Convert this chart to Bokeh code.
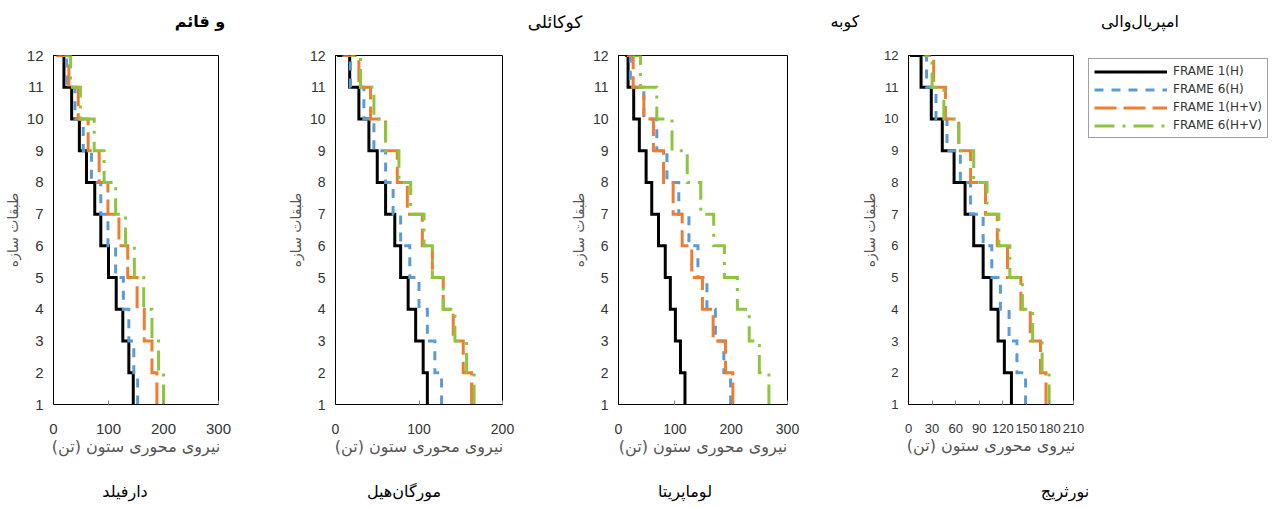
from bokeh.plotting import figure
from bokeh.layouts import row, column
from bokeh.models import Range1d, FixedTicker, Legend, LegendItem, Div
from bokeh.embed import file_html
from bokeh.resources import INLINE

stories = [1, 2, 3, 4, 5, 6, 7, 8, 9, 10, 11, 12]
series_names = ["FRAME 1(H)", "FRAME 6(H)", "FRAME 1(H+V)", "FRAME 6(H+V)"]

# Darfield
darfield_f1h = [145, 137, 126, 114, 100, 86, 75, 60, 47, 33, 19, 7]
darfield_f6h = [153, 146, 137, 127, 113, 99, 86, 69, 54, 39, 24, 10]
darfield_f1hv = [188, 179, 165, 152, 135, 119, 99, 83, 63, 45, 28, 5]
darfield_f6hv = [200, 191, 179, 164, 147, 131, 113, 92, 74, 49, 31, 20]
# Morgan Hill
morgan_f1h = [110, 105, 96, 87, 78, 71, 60, 50, 40, 28, 17, 2]
morgan_f6h = [127, 119, 110, 100, 89, 78, 69, 60, 46, 34, 18, 8]
morgan_f1hv = [163, 153, 141, 129, 116, 104, 86, 74, 60, 42, 28, 10]
morgan_f6hv = [166, 157, 143, 129, 116, 106, 90, 76, 60, 46, 30, 18]
# Loma Prieta
loma_f1h = [118, 110, 101, 92, 83, 71, 59, 49, 37, 27, 17, 12]
loma_f6h = [199, 187, 172, 157, 141, 125, 107, 86, 68, 45, 21, 10]
loma_f1hv = [203, 190, 168, 149, 130, 113, 97, 80, 62, 45, 26, 15]
loma_f6hv = [267, 250, 232, 211, 188, 169, 146, 122, 95, 68, 39, 25]
# Northridge
north_f1h = [131, 122, 114, 105, 95, 83, 72, 58, 43, 29, 16, 2]
north_f6h = [149, 138, 128, 117, 106, 95, 79, 66, 49, 35, 23, 10]
north_f1hv = [175, 168, 155, 143, 126, 113, 98, 79, 64, 47, 32, 23]
north_f6hv = [179, 170, 158, 145, 129, 115, 100, 83, 64, 45, 30, 20]

x_ticks_1 = [0, 100, 200, 300]
x_ticks_2 = [0, 100, 200]
x_ticks_3 = [0, 100, 200, 300]
x_ticks_4 = [0, 30, 60, 90, 120, 150, 180, 210]

top_titles = ["و قائم", "کوکائلی", "کوبه", "امپریال‌والی"]
bottom_titles = ["دارفیلد", "مورگان‌هیل", "لوماپریتا", "نورثریج"]
y_label = "طبقات سازه"
x_label = "نیروی محوری ستون (تن)"

STYLES = [
    dict(line_color="black", line_dash="solid", line_width=3),
    dict(line_color="#5B9BD5", line_dash="9 8", line_width=3),
    dict(line_color="#ED7D31", line_dash="22 7", line_width=3),
    dict(line_color="#8CC63F", line_dash="20 8 3 8", line_width=3),
]
AR_FONT = "DejaVu Sans"
FIG_H = 435


def step_xy(vals, ys):
    xs_out, ys_out = [], []
    for i in range(len(vals) - 1):
        xs_out += [vals[i], vals[i]]
        ys_out += [ys[i], ys[i + 1]]
    xs_out.append(vals[-1])
    ys_out.append(ys[-1])
    return xs_out, ys_out


def panel(width, bl, br, bt, bb, xmax, xticks, data, tick_size="14px"):
    p = figure(width=width, height=FIG_H, output_backend="svg", toolbar_location=None,
               title=None, x_range=Range1d(0, xmax), y_range=Range1d(1, 12),
               min_border_left=bl, min_border_right=br, min_border_top=bt, min_border_bottom=bb)
    p.grid.visible = False
    p.outline_line_color = "black"
    p.outline_line_width = 1
    p.background_fill_color = "white"
    p.border_fill_color = "white"
    p.xaxis.ticker = FixedTicker(ticks=xticks)
    p.yaxis.ticker = FixedTicker(ticks=stories)
    for ax in (p.xaxis[0], p.yaxis[0]):
        ax.axis_line_color = "black"
        ax.major_label_text_font = "Liberation Sans"
        ax.major_label_text_font_size = tick_size
        ax.major_label_text_color = "#333333"
        ax.minor_tick_line_color = None
        ax.axis_label_text_font = AR_FONT
        ax.axis_label_text_font_style = "normal"
        ax.axis_label_text_color = "#555555"
    p.xaxis.axis_label_text_font_size = "16px"
    p.yaxis.axis_label_text_font_size = "14px"
    p.xaxis.major_tick_in = 4
    p.xaxis.major_tick_out = 0
    p.xaxis.major_tick_line_color = "#888888"
    p.xaxis.major_label_standoff = 19
    p.xaxis.axis_label = x_label
    p.xaxis.axis_label_standoff = 0
    p.yaxis.major_tick_in = 0
    p.yaxis.major_tick_out = 0
    p.yaxis.major_label_standoff = 10
    p.yaxis.axis_label = y_label
    p.yaxis.axis_label_standoff = 3
    rs = []
    for vals, st in zip(data, STYLES):
        xs, ys = step_xy(vals, stories)
        rs.append(p.line(xs, ys, line_join="miter", line_cap="butt", **st))
    return p, rs


def text_div(text, width, height, line_h, bold=False, size="16px"):
    weight = "bold" if bold else "normal"
    html = (f'<div style="width:{width}px;height:{height}px;line-height:{line_h}px;'
            f'text-align:center;font-family:\'{AR_FONT}\';font-size:{size};'
            f'font-weight:{weight};color:black;white-space:nowrap;">{text}</div>')
    return Div(text=html, width=width, height=height, margin=0)


def spacer(width, height):
    return Div(text="", width=width, height=height, margin=0)


# top captions (centres ~ x 200, 555, 845, 1140)
top_row = row(
    text_div(top_titles[0], 400, 40, 44, bold=True),
    text_div(top_titles[1], 310, 40, 44, size="17px"),
    text_div(top_titles[2], 270, 40, 44),
    spacer(20, 40),
    text_div(top_titles[3], 280, 40, 44),
)

# Panel 1: Darfield  (frame ~ x 53-218, y 55-404)
p1, _ = panel(260, 53, 42, 15, 71, 300, x_ticks_1,
              [darfield_f1h, darfield_f6h, darfield_f1hv, darfield_f6hv], tick_size="15px")
# Panel 2: Morgan Hill (frame ~ x 335-502, y 52-407)
p2, _ = panel(260, 75, 18, 12, 68, 200, x_ticks_2,
              [morgan_f1h, morgan_f6h, morgan_f1hv, morgan_f6hv])
# Panel 3: Loma Prieta (frame ~ x 618-787, y 52-407)
p3, _ = panel(280, 98, 13, 12, 68, 300, x_ticks_3,
              [loma_f1h, loma_f6h, loma_f1hv, loma_f6hv])
# Panel 4: Northridge (frame ~ x 908-1073, y 55-408)
p4, _ = panel(285, 108, 12, 15, 67, 210, x_ticks_4,
              [north_f1h, north_f6h, north_f1hv, north_f6hv], tick_size="13px")

# legend panel: the series are drawn again here but fall outside its range,
# so only their legend entries show
pl = figure(width=195, height=FIG_H, output_backend="svg", toolbar_location=None, title=None,
            x_range=Range1d(1000, 1001), y_range=Range1d(1000, 1001),
            min_border_left=0, min_border_right=0, min_border_top=12, min_border_bottom=0)
pl.axis.visible = False
pl.grid.visible = False
pl.outline_line_color = None
legend_rs = []
for vals, st in zip([north_f1h, north_f6h, north_f1hv, north_f6hv], STYLES):
    xs, ys = step_xy(vals, stories)
    legend_rs.append(pl.line(xs, ys, **st))
legend = Legend(items=[LegendItem(label=n, renderers=[r]) for n, r in zip(series_names, legend_rs)],
                location="top_left")
legend.glyph_width = 73
legend.glyph_height = 13
legend.label_height = 13
legend.spacing = 4
legend.padding = 5
legend.margin = 3
legend.label_standoff = 6
legend.label_text_font = "DejaVu Sans"
legend.label_text_font_size = "12px"
legend.label_text_color = "#333333"
legend.border_line_color = "#444444"
legend.border_line_width = 1.5
legend.background_fill_color = "white"
legend.background_fill_alpha = 1
pl.add_layout(legend)

# bottom captions (centres ~ x 125, 404, 685, 1065)
bottom_row = row(
    text_div(bottom_titles[0], 250, 33, 34),
    text_div(bottom_titles[1], 308, 33, 34),
    text_div(bottom_titles[2], 254, 33, 34),
    spacer(38, 33),
    text_div(bottom_titles[3], 430, 33, 34),
)

layout = column(top_row, row(p1, p2, p3, p4, pl), bottom_row)
open("out.html", "w").write(file_html(layout, INLINE))
